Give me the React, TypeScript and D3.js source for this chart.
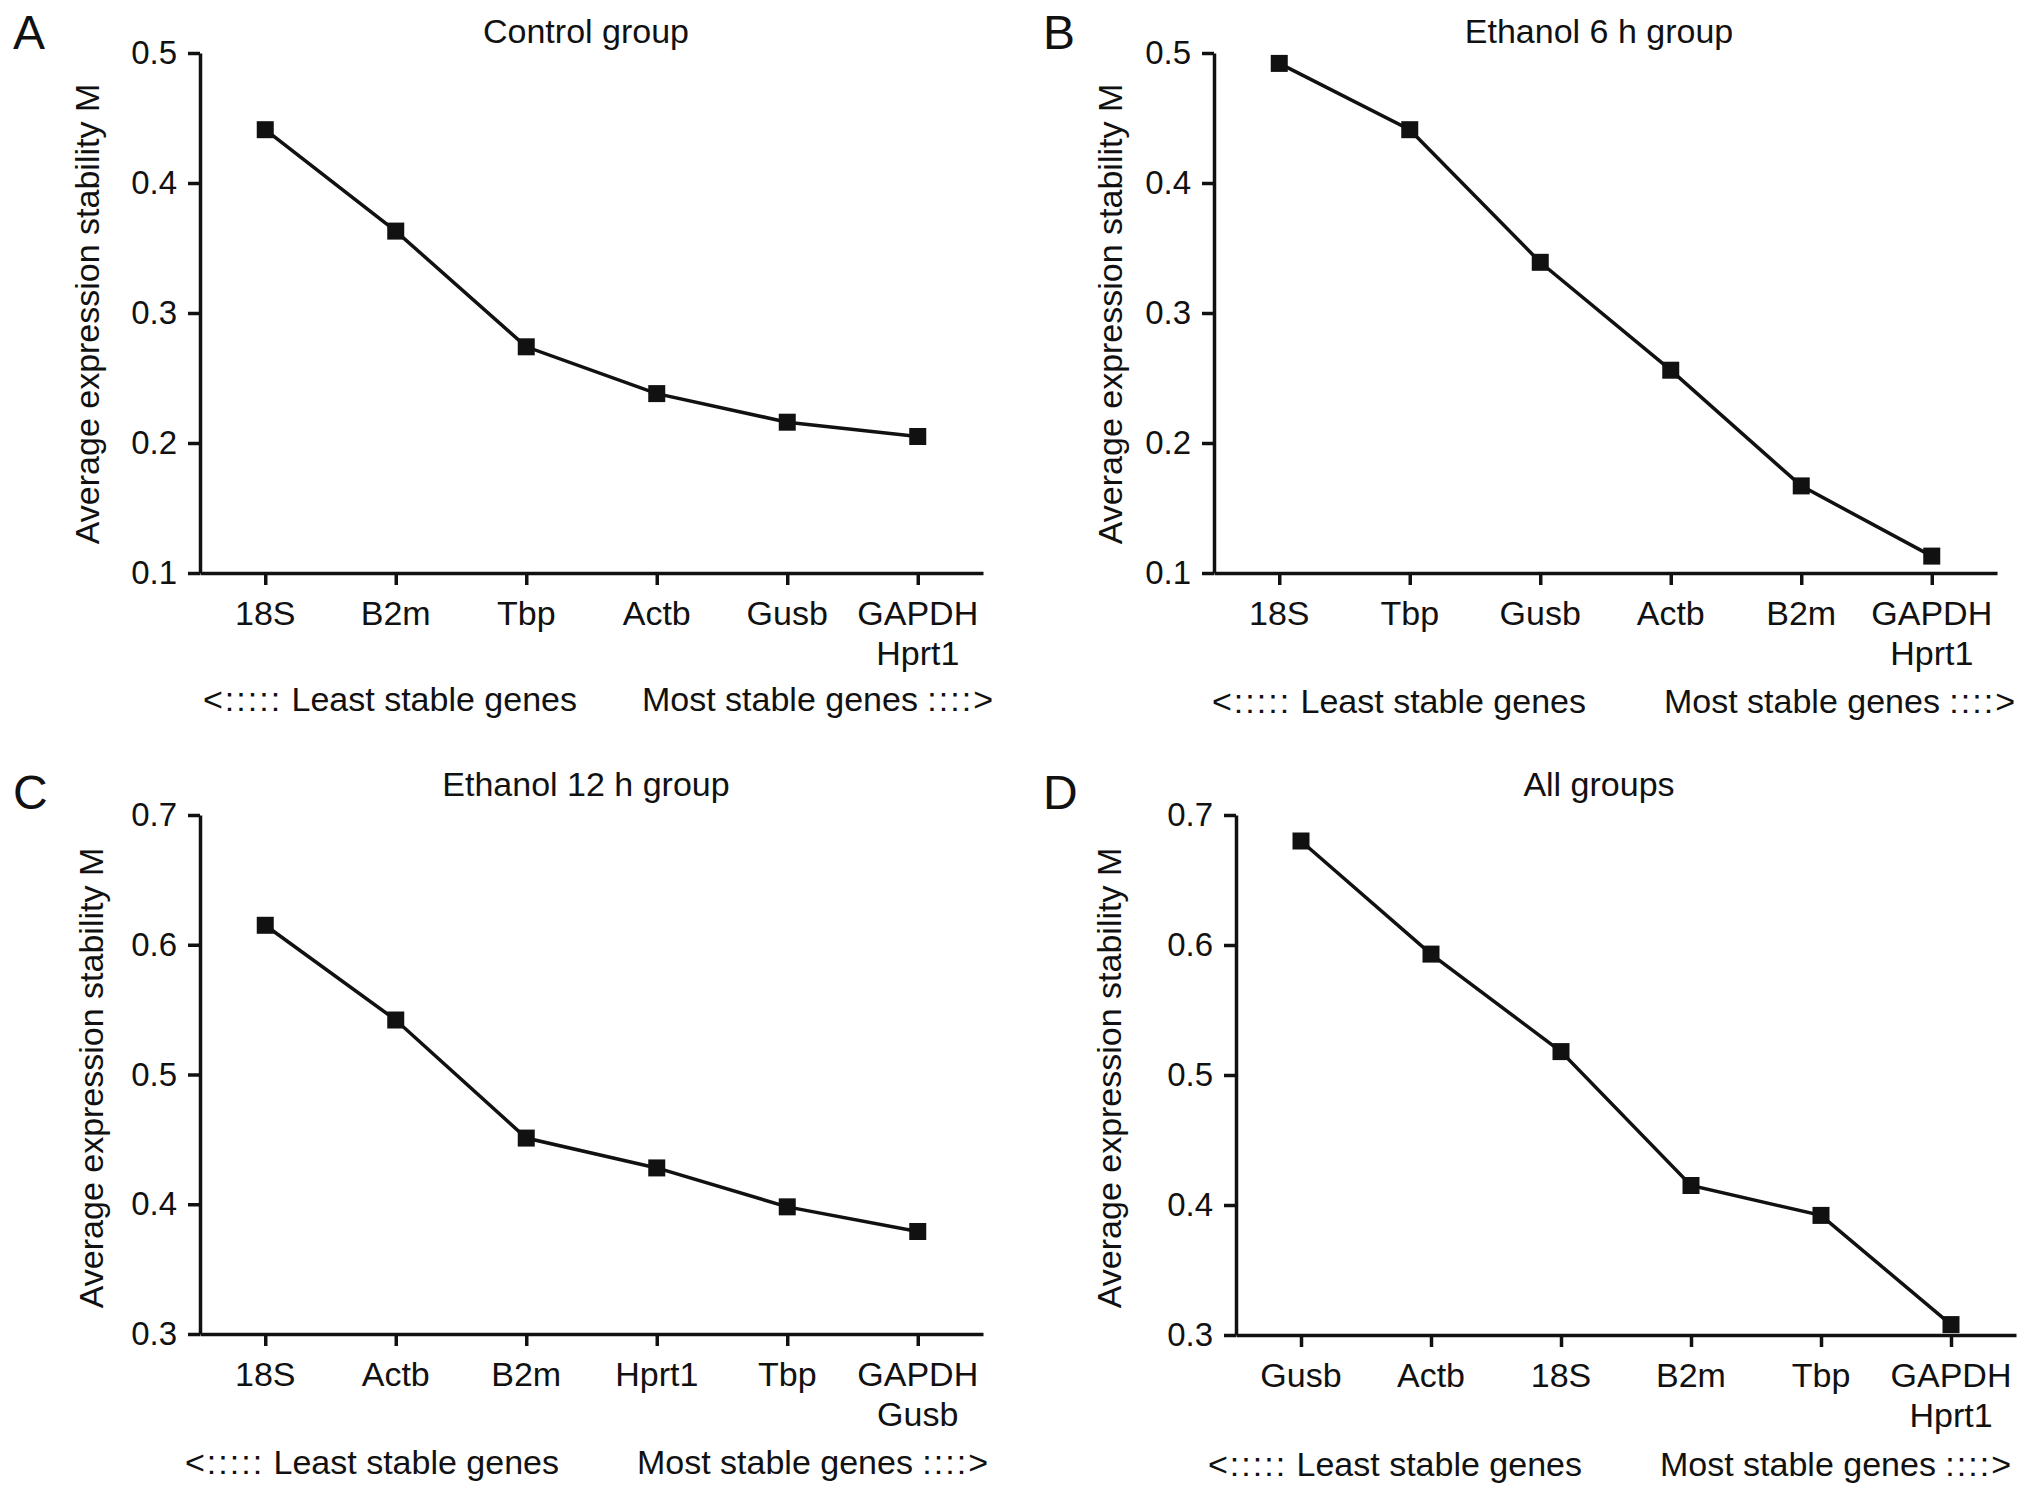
import React, { useRef, useEffect } from 'react';
import * as d3 from 'd3';

// gene order (least -> most stable) and geNorm M values per panel
const genesA = ['18S', 'B2m', 'Tbp', 'Actb', 'Gusb', 'GAPDH\nHprt1'];
const valuesA = [0.441, 0.363, 0.274, 0.238, 0.216, 0.205];

const genesB = ['18S', 'Tbp', 'Gusb', 'Actb', 'B2m', 'GAPDH\nHprt1'];
const valuesB = [0.492, 0.441, 0.339, 0.256, 0.167, 0.113];

const genesC = ['18S', 'Actb', 'B2m', 'Hprt1', 'Tbp', 'GAPDH\nGusb'];
const valuesC = [0.615, 0.542, 0.451, 0.428, 0.398, 0.379];

const genesD = ['Gusb', 'Actb', '18S', 'B2m', 'Tbp', 'GAPDH\nHprt1'];
const valuesD = [0.68, 0.593, 0.518, 0.415, 0.392, 0.308];

const ticksTop = [0.1, 0.2, 0.3, 0.4, 0.5];
const ticksBottom = [0.3, 0.4, 0.5, 0.6, 0.7];

const titles = ['Control group', 'Ethanol 6 h group', 'Ethanol 12 h group', 'All groups'];
const letters = ['A', 'B', 'C', 'D'];
const yLabel = 'Average expression stability M';
const leastArrow = '<:::::';
const leastText = ' Least stable genes';
const mostText = 'Most stable genes ';
const mostArrow = '::::>';

const width = 2032;
const height = 1497;
const font = '"Liberation Sans", Arial, Helvetica, sans-serif';
const ink = '#111';

type Panel = {
  genes: string[];
  values: number[];
  ticks: number[];
  left: number;
  right: number;
  top: number;
  bottom: number;
  titleX: number;
  titleY: number;
  letterX: number;
  letterY: number;
  labelX: number;
  labelY: number;
  noteY: number;
  leastX: number;
  mostX: number;
};

const panels: Panel[] = [
  { genes: genesA, values: valuesA, ticks: ticksTop, left: 200, right: 983, top: 53, bottom: 573,
    titleX: 586, titleY: 43, letterX: 13, letterY: 49, labelX: 99, labelY: 314, noteY: 711, leastX: 203, mostX: 995 },
  { genes: genesB, values: valuesB, ticks: ticksTop, left: 1214, right: 1997, top: 53, bottom: 573,
    titleX: 1599, titleY: 43, letterX: 1043, letterY: 49, labelX: 1122, labelY: 314, noteY: 713, leastX: 1212, mostX: 2017 },
  { genes: genesC, values: valuesC, ticks: ticksBottom, left: 200, right: 983, top: 815, bottom: 1334,
    titleX: 586, titleY: 796, letterX: 13, letterY: 809, labelX: 103, labelY: 1078, noteY: 1474, leastX: 185, mostX: 990 },
  { genes: genesD, values: valuesD, ticks: ticksBottom, left: 1236, right: 2016, top: 815, bottom: 1335,
    titleX: 1599, titleY: 796, letterX: 1043, letterY: 809, labelX: 1121, labelY: 1078, noteY: 1476, leastX: 1208, mostX: 2013 },
];

const App: React.FC = () => {
  const chartRef = useRef<SVGSVGElement>(null);

  useEffect(() => {
    document.body.style.margin = '0';
    const svg = d3.select(chartRef.current);
    svg.selectAll('*').remove();

    svg.append('rect').attr('width', width).attr('height', height).attr('fill', '#fff');

    panels.forEach((p, k) => {
      const x = d3.scalePoint<string>().domain(p.genes).range([p.left, p.right]).padding(0.5);
      const y = d3
        .scaleLinear()
        .domain([p.ticks[0], p.ticks[p.ticks.length - 1]])
        .range([p.bottom, p.top]);

      const g = svg.append('g').attr('font-family', font).attr('fill', ink);

      // y axis
      const yAxis = g
        .append('g')
        .attr('transform', `translate(${p.left},0)`)
        .call(d3.axisLeft(y).tickValues(p.ticks).tickFormat(d3.format('.1f')).tickSize(12).tickSizeOuter(0).tickPadding(11));
      yAxis.attr('font-size', 33).attr('font-family', font);
      yAxis.selectAll('path, line').attr('stroke', ink).attr('stroke-width', 3.5);
      yAxis.selectAll('text').attr('fill', ink);

      // x axis
      const xAxis = g
        .append('g')
        .attr('transform', `translate(0,${p.bottom})`)
        .call(d3.axisBottom(x).tickSize(12).tickSizeOuter(0).tickFormat(() => ''));
      xAxis.selectAll('path, line').attr('stroke', ink).attr('stroke-width', 3.5);

      // multi-line category labels
      g.append('g')
        .selectAll('text')
        .data(p.genes)
        .join('text')
        .attr('x', (d) => x(d) ?? 0)
        .attr('y', p.bottom + 52)
        .attr('text-anchor', 'middle')
        .attr('font-size', 34)
        .each(function (d) {
          const t = d3.select(this);
          d.split('\n').forEach((line, i) => {
            t.append('tspan')
              .attr('x', x(d) ?? 0)
              .attr('dy', i === 0 ? 0 : 40)
              .text(line);
          });
        });

      // line
      const line = d3
        .line<number>()
        .x((_, i) => x(p.genes[i]) ?? 0)
        .y((d) => y(d));
      g.append('path')
        .datum(p.values)
        .attr('d', line)
        .attr('fill', 'none')
        .attr('stroke', ink)
        .attr('stroke-width', 3.5);

      // square markers
      g.append('g')
        .selectAll('rect')
        .data(p.values)
        .join('rect')
        .attr('x', (_, i) => (x(p.genes[i]) ?? 0) - 8.5)
        .attr('y', (d) => y(d) - 8.5)
        .attr('width', 17)
        .attr('height', 17)
        .attr('fill', ink);

      // title, panel letter, axis label, notes
      g.append('text')
        .attr('x', p.titleX)
        .attr('y', p.titleY)
        .attr('text-anchor', 'middle')
        .attr('font-size', 34)
        .text(titles[k]);

      g.append('text')
        .attr('x', p.letterX)
        .attr('y', p.letterY)
        .attr('font-size', 48)
        .text(letters[k]);

      g.append('text')
        .attr('transform', `translate(${p.labelX},${p.labelY}) rotate(-90)`)
        .attr('text-anchor', 'middle')
        .attr('font-size', 34)
        .text(yLabel);

      const least = g.append('text').attr('x', p.leastX).attr('y', p.noteY).attr('font-size', 34);
      least.append('tspan').attr('letter-spacing', 2).text(leastArrow);
      least.append('tspan').text(leastText);

      const most = g
        .append('text')
        .attr('x', p.mostX)
        .attr('y', p.noteY)
        .attr('text-anchor', 'end')
        .attr('font-size', 34);
      most.append('tspan').text(mostText);
      most.append('tspan').attr('letter-spacing', 2).text(mostArrow);
    });
  }, []);

  return <svg ref={chartRef} width={width} height={height} style={{ display: 'block' }} />;
};

export default App;
